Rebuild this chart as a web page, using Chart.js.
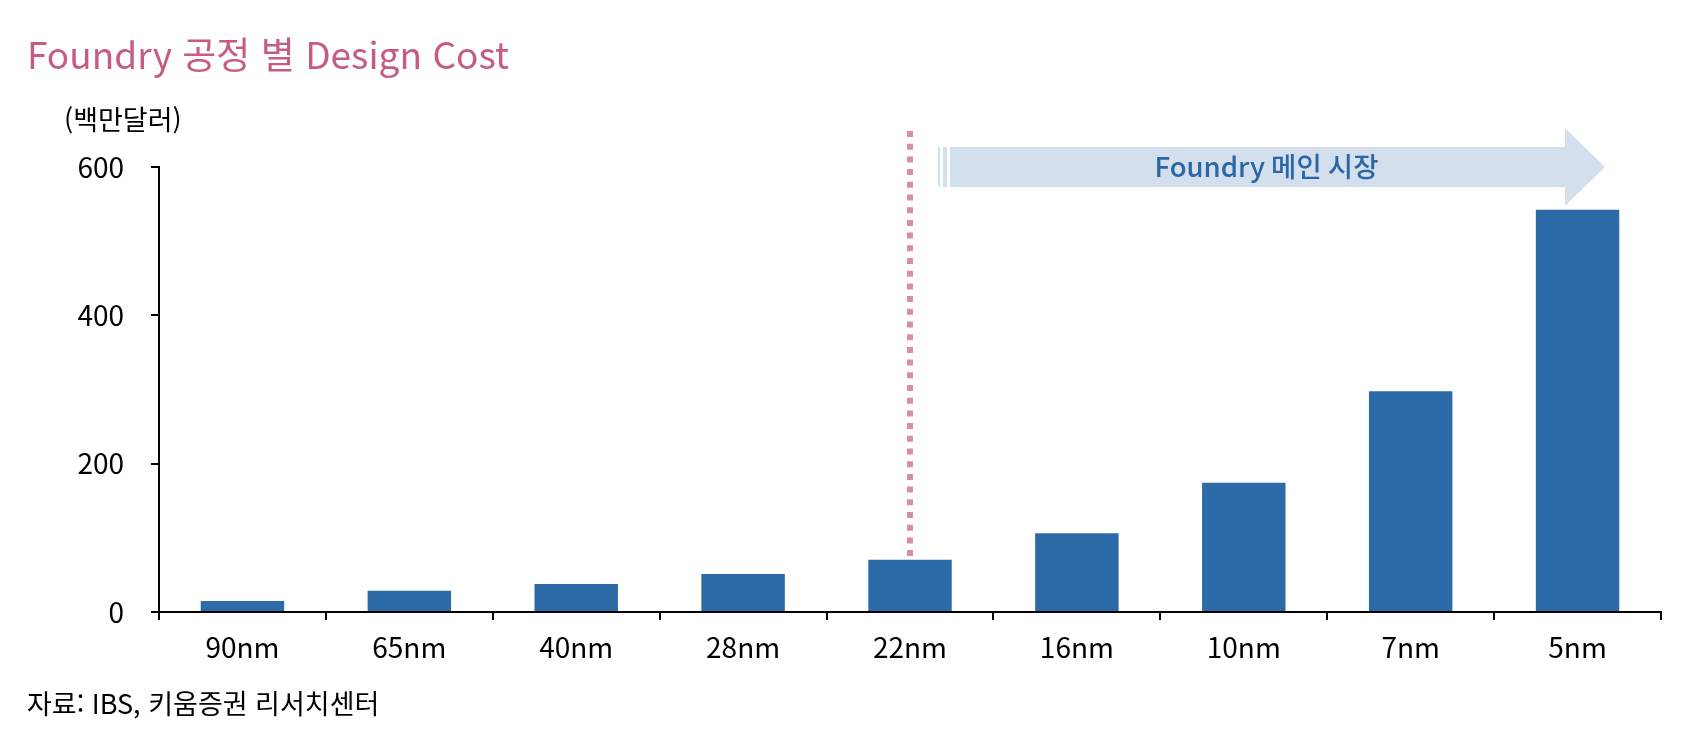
<!DOCTYPE html>
<html lang="ko">
<head>
<meta charset="utf-8">
<script src="https://cdn.jsdelivr.net/npm/chart.js@4/dist/chart.umd.min.js"></script>
<style>
    html, body { margin: 0; padding: 0; background: #fff; }
    #wrap { position: relative; width: 1688px; height: 731px; }
    #chart { position: absolute; left: 0; top: 0; }
    .txt { position: absolute; font-family: 'Noto Sans CJK KR', 'Noto Sans', sans-serif; white-space: nowrap; line-height: 1; }
    #title { left: 27px; top: 35px; font-size: 37px; color: #c65c86; }
    #unit { left: 64px; top: 105px; font-size: 27px; color: #000; }
    #source { left: 27px; top: 689px; font-size: 27px; color: #000; }
</style>
</head>
<body>
<div id="wrap">
    <canvas id="chart" width="1688" height="731"></canvas>
    <div class="txt" id="title">Foundry 공정 별 Design Cost</div>
    <div class="txt" id="unit">(백만달러)</div>
    <div class="txt" id="source">자료: IBS, 키움증권 리서치센터</div>
</div>

<script>
/* ---------------------------------------------------------------- */
/*  DONNÉES                                                         */
/* ---------------------------------------------------------------- */

const NODES = ['90nm', '65nm', '40nm', '28nm', '22nm', '16nm', '10nm', '7nm', '5nm'];
const DESIGN_COST = [15, 28.5, 37.7, 51.3, 70.3, 106.3, 174.4, 297.8, 542.2];
const Y_TICKS = [0, 200, 400, 600];

const MAIN_MARKET_FROM = '22nm';
const MAIN_MARKET_LABEL = 'Foundry 메인 시장';

const FONT = "'Noto Sans CJK KR', 'Noto Sans', sans-serif";

/* ---------------------------------------------------------------- */
/*  PLUGIN : ligne pointillée + flèche                              */
/* ---------------------------------------------------------------- */

const marketArrow = {
    id: 'marketArrow',
    afterDatasetsDraw(chart) {
        const { ctx, chartArea, scales: { x, y } } = chart;
        const idx = NODES.indexOf(MAIN_MARKET_FROM);
        const lineX = x.getPixelForValue(idx);
        const midY = y.getPixelForValue(Y_TICKS[Y_TICKS.length - 1]);

        ctx.save();

        // ligne pointillée verticale
        ctx.strokeStyle = '#d78ea7';
        ctx.lineWidth = 6;
        ctx.setLineDash([6, 6.7]);
        ctx.beginPath();
        ctx.moveTo(lineX, midY - 36);
        ctx.lineTo(lineX, y.getPixelForValue(DESIGN_COST[idx]) - 2);
        ctx.stroke();
        ctx.setLineDash([]);

        // flèche
        const bodyStart = lineX + 40;
        const tip = chartArea.right - 56;
        const headBack = tip - 40;
        ctx.fillStyle = '#d3dfed';
        ctx.fillRect(lineX + 28, midY - 20, 2, 40);
        ctx.fillRect(lineX + 33, midY - 20, 4, 40);
        ctx.beginPath();
        ctx.moveTo(bodyStart, midY - 20);
        ctx.lineTo(headBack, midY - 20);
        ctx.lineTo(headBack, midY - 39);
        ctx.lineTo(tip, midY);
        ctx.lineTo(headBack, midY + 39);
        ctx.lineTo(headBack, midY + 20);
        ctx.lineTo(bodyStart, midY + 20);
        ctx.closePath();
        ctx.fill();

        ctx.fillStyle = '#2b66a6';
        ctx.font = '500 27.5px ' + FONT;
        ctx.textAlign = 'center';
        ctx.textBaseline = 'middle';
        ctx.fillText(MAIN_MARKET_LABEL, (bodyStart + headBack) / 2 + 9, midY);

        ctx.restore();
    }
};

/* ---------------------------------------------------------------- */
/*  GRAPHIQUE                                                       */
/* ---------------------------------------------------------------- */

new Chart(document.getElementById('chart'), {
    type: 'bar',
    data: {
        labels: NODES,
        datasets: [{
            data: DESIGN_COST,
            backgroundColor: '#2c6ba7',
            barPercentage: 0.5,
            categoryPercentage: 1.0
        }]
    },
    options: {
        responsive: false,
        animation: false,
        layout: { padding: { top: 167, right: 27, bottom: 0, left: 0 } },
        plugins: {
            legend: { display: false },
            tooltip: { enabled: false }
        },
        scales: {
            x: {
                offset: true,
                grid: { offset: true, drawOnChartArea: false, tickLength: 8, color: '#000', lineWidth: 2 },
                border: { color: '#000', width: 2 },
                ticks: { color: '#000', font: { family: FONT, size: 28 }, padding: 11, maxRotation: 0 },
                afterFit(scale) { scale.height = 119; }
            },
            y: {
                min: 0,
                max: 600,
                afterBuildTicks(scale) { scale.ticks = Y_TICKS.map(v => ({ value: v })); },
                grid: { drawOnChartArea: false, tickLength: 8, color: '#000', lineWidth: 2 },
                border: { color: '#000', width: 2 },
                ticks: { color: '#000', font: { family: FONT, size: 28 }, padding: 27 },
                afterFit(scale) { scale.width = 159; }
            }
        }
    },
    plugins: [marketArrow]
});
</script>
</body>
</html>
